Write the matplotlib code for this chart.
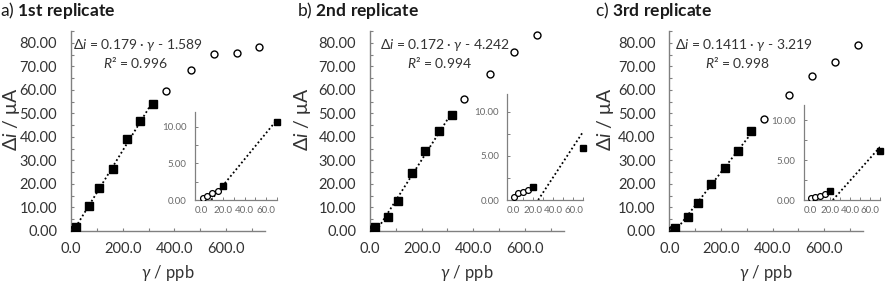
import matplotlib
matplotlib.use("Agg")
import matplotlib.pyplot as plt
from matplotlib.ticker import MultipleLocator, FormatStrFormatter, FixedLocator

plt.rcParams['font.family'] = ['Lato', 'DejaVu Sans']
plt.rcParams['mathtext.fontset'] = 'custom'
plt.rcParams['mathtext.rm'] = 'Lato'
plt.rcParams['mathtext.it'] = 'Lato:italic'
plt.rcParams['mathtext.bf'] = 'Lato:bold'

# ---------------- data ----------------
low_x = [1, 5, 10, 15]          # open circles (below linear range)
lin_x = [20, 70, 110, 162, 215, 267, 316]   # filled squares (linear range)
high_x_a = [366, 464, 554, 641, 728]
high_x_b = [366, 464, 558, 647]
high_x_c = [367, 464, 554, 643, 729]

low_y_a = [0.3, 0.6, 0.9, 1.2]
lin_y_a = [1.9, 10.7, 18.1, 26.3, 38.9, 46.7, 53.9]
high_y_a = [59.6, 68.6, 75.4, 75.7, 78.1]

low_y_b = [0.3, 0.75, 0.9, 1.15]
lin_y_b = [1.5, 5.9, 12.6, 24.6, 34.0, 42.4, 49.3]
high_y_b = [56.0, 66.9, 76.0, 83.1]

low_y_c = [0.2, 0.35, 0.55, 0.8]
lin_y_c = [1.15, 6.1, 11.7, 19.8, 26.9, 34.2, 42.3]
high_y_c = [47.6, 57.7, 65.9, 72.0, 78.9]

slopes = [0.179, 0.172, 0.1411]
intercepts = [-1.589, -4.242, -3.219]
r2 = [0.996, 0.994, 0.998]
slope_txt = ["0.179", "0.172", "0.1411"]
inter_txt = ["1.589", "4.242", "3.219"]
letters = ["a)", "b)", "c)"]
titles = ["1st replicate", "2nd replicate", "3rd replicate"]

panels = [
    (low_y_a, lin_y_a, high_x_a, high_y_a),
    (low_y_b, lin_y_b, high_x_b, high_y_b),
    (low_y_c, lin_y_c, high_x_c, high_y_c),
]

# ---------------- layout (pixels) ----------------
W, H = 887, 282
fig = plt.figure(figsize=(W / 100, H / 100), dpi=100)

def rect(x0, x1, ytop, ybot):
    return [x0 / W, 1 - ybot / H, (x1 - x0) / W, (ybot - ytop) / H]

main_rects = [rect(71, 265, 31, 231), rect(370, 563.5, 31, 231), rect(669.5, 863, 31, 231)]
inset_rects = [rect(195, 277, 112, 200), rect(507.5, 583.5, 94, 200), rect(804, 880, 104.5, 200)]
title_x = [0, 297, 595]
eq_x = [72.7, 380, 675]
r2_x = [135, 440, 737]
ylab_x = [11.5, 302.5, 606]
xlab_x = [168, 467, 766]

spine_col = '#808080'
lab_col = '#333333'
inset_lab_col = '#6a6a6a'
dot = (0, (1, 1.4))

for k in range(3):
    low_y, lin_y, hx, hy = panels[k]
    m, b = slopes[k], intercepts[k]
    x0 = -b / m

    ax = fig.add_axes(main_rects[k])
    ax.plot([x0, lin_x[-1]], [0, m * lin_x[-1] + b], color='black', lw=1.3, ls=dot, zorder=2)
    ax.plot(low_x, low_y, 'o', ms=5, mfc='white', mec='black', mew=1.0, zorder=3)
    ax.plot(lin_x, lin_y, 's', ms=5.2, color='black', zorder=4)
    ax.plot(hx, hy, 'o', ms=5, mfc='white', mec='black', mew=1.0, zorder=3)
    ax.set_xlim(0, 750)
    ax.set_ylim(0, 85)
    ax.xaxis.set_major_locator(FixedLocator([0, 200, 400, 600]))
    ax.xaxis.set_minor_locator(FixedLocator([100, 300, 500, 700]))
    ax.yaxis.set_major_locator(MultipleLocator(10))
    ax.yaxis.set_minor_locator(MultipleLocator(5))
    ax.xaxis.set_major_formatter(FormatStrFormatter('%.1f'))
    ax.yaxis.set_major_formatter(FormatStrFormatter('%.2f'))
    for s in ['top', 'right']:
        ax.spines[s].set_visible(False)
    for s in ['left', 'bottom']:
        ax.spines[s].set_color(spine_col)
        ax.spines[s].set_linewidth(1.0)
    ax.tick_params(which='both', direction='in', length=2.5, width=0.8, color=spine_col)
    ax.tick_params(axis='y', which='major', labelsize=10.5, labelcolor=lab_col, pad=10)
    ax.tick_params(axis='x', which='major', labelsize=10.5, labelcolor=lab_col, pad=8)
    ax.set_facecolor('none')

    # inset
    ia = fig.add_axes(inset_rects[k])
    ia.plot([x0, 70], [0, m * 70 + b], color='black', lw=1.3, ls=dot, zorder=2, clip_on=True)
    ia.plot(low_x, low_y, 'o', ms=4.2, mfc='white', mec='black', mew=0.9, zorder=3)
    ia.plot(lin_x[:2], lin_y[:2], 's', ms=5, color='black', zorder=4, clip_on=False)
    ia.set_xlim(-6, 70)
    ia.set_ylim(0, 12)
    ia.xaxis.set_major_locator(FixedLocator([0, 20, 40, 60]))
    ia.xaxis.set_minor_locator(FixedLocator([10, 30, 50, 70]))
    ia.yaxis.set_major_locator(MultipleLocator(5))
    ia.yaxis.set_minor_locator(MultipleLocator(2.5))
    ia.xaxis.set_major_formatter(FormatStrFormatter('%.1f'))
    ia.yaxis.set_major_formatter(FormatStrFormatter('%.2f'))
    for s in ['top', 'right']:
        ia.spines[s].set_visible(False)
    for s in ['left', 'bottom']:
        ia.spines[s].set_color(spine_col)
        ia.spines[s].set_linewidth(0.9)
    ia.tick_params(which='both', direction='in', length=2.2, width=0.7, color=spine_col)
    ia.tick_params(axis='y', which='major', labelsize=7, labelcolor=inset_lab_col, pad=6)
    ia.tick_params(axis='x', which='major', labelsize=7, labelcolor=inset_lab_col, pad=4.5)
    ia.set_facecolor('none')

    # texts
    fig.text(title_x[k] / W, 1 - 16 / H, letters[k] + r" $\mathbf{" + titles[k].replace(' ', r'\ ') + "}$",
             fontsize=12.5, color='#1a1a1a', ha='left', va='baseline')
    fig.text(eq_x[k] / W, 1 - 45 / H,
             r"$\Delta\mathit{i}$ = " + slope_txt[k] + r" · $\mathit{\gamma}$ - " + inter_txt[k],
             fontsize=10, color=lab_col, ha='left', va='center')
    fig.text(r2_x[k] / W, 1 - 62 / H, r"$\mathit{R}$² = " + f"{r2[k]:.3f}",
             fontsize=10, color=lab_col, ha='center', va='center')
    fig.text(ylab_x[k] / W, 1 - 119 / H, r"$\Delta\mathit{i}$ / μA", rotation=90,
             fontsize=14, color=lab_col, ha='center', va='center')
    fig.text(xlab_x[k] / W, 1 - 273 / H, r"$\mathit{\gamma}$ / ppb",
             fontsize=12, color=lab_col, ha='center', va='center')

fig.savefig("out.png", dpi=100)
